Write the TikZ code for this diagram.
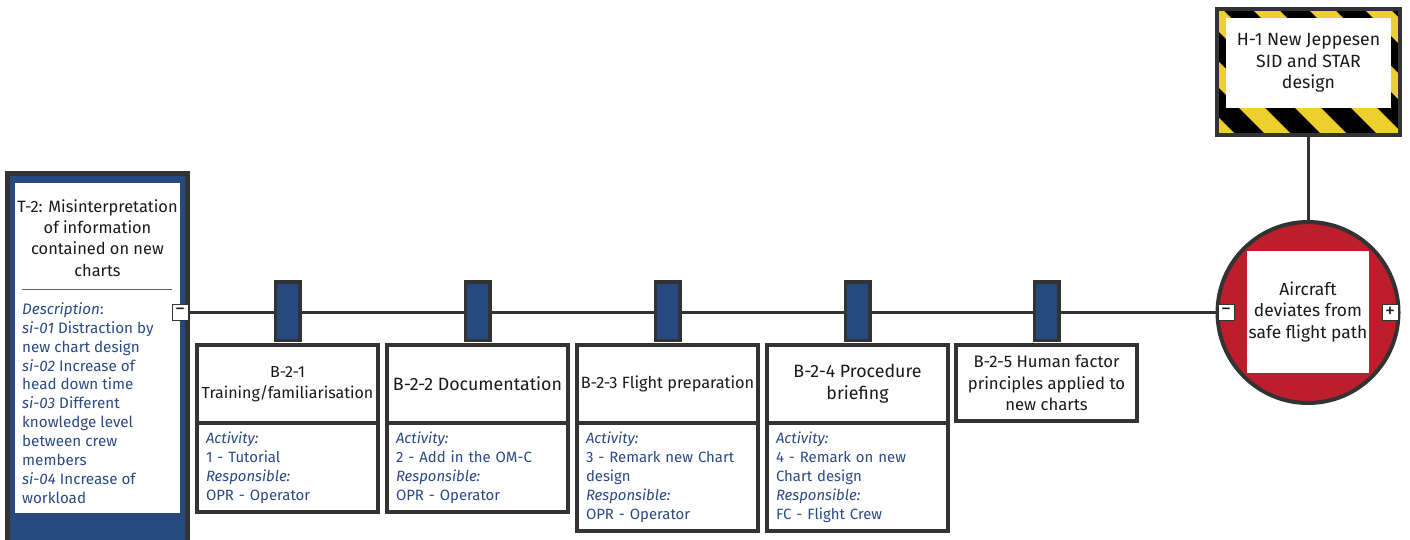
\documentclass[tikz,border=0pt]{standalone}
\usepackage{fontspec}
\setmainfont{Fira Sans}
\usetikzlibrary{calc}

\definecolor{frame}{HTML}{333333}
\definecolor{bowblue}{HTML}{264A7F}
\definecolor{txtblue}{HTML}{2B4A85}
\definecolor{topred}{HTML}{BC1E2B}
\definecolor{hazyel}{HTML}{EDCF2E}
\definecolor{inkblack}{HTML}{1A1A1A}

\tikzset{
  frameline/.style={draw=frame, line width=4, outer sep=0},
  barrierhead/.style={frameline, fill=white, minimum width=181, anchor=north,
    align=center, inner sep=2, text=inkblack,
    font=\fontsize{#1}{21.5}\selectfont},
  barrierhead/.default=16,
  barrierbody/.style={frameline, fill=white, minimum width=181, text width=163,
    inner xsep=9, inner ysep=2, align=left, anchor=north, text=txtblue,
    font=\fontsize{14.9}{19}\selectfont},
  shutter/.style={draw=frame, line width=3.5, fill=bowblue, minimum width=24.5,
    minimum height=58.5, inner sep=0, outer sep=0},
  toggle/.style={draw=frame, line width=1, fill=white, minimum size=16,
    inner sep=0, outer sep=0, font=\fontsize{20}{20}\selectfont, text=inkblack},
  mainline/.style={draw=frame, line width=3},
}

\begin{document}
\begin{tikzpicture}[x=1pt, y=-1pt]
\useasboundingbox (0,0) rectangle (1410,539);

% threat column
\draw[draw=frame, line width=5, fill=bowblue] (7.5,173.5) rectangle (187.5,560);
\fill[white] (15,183) rectangle (180,513);
\node[align=center, inner sep=0, text=inkblack, font=\fontsize{16.4}{21.3}\selectfont]
  (threattitle) at (97.5,238)
  {T-2: Misinterpretation\\of information\\contained on new\\charts};
\draw[frame!80, line width=1] (22,289.5) -- (172,289.5);
\node[align=left, anchor=west, inner sep=0, text=txtblue,
  font=\fontsize{15.2}{18.9}\selectfont] (threatdesc) at (22,403)
  {\textit{Description}:\\
   \textit{si-01} Distraction by\\
   new chart design\\
   \textit{si-02} Increase of\\
   head down time\\
   \textit{si-03} Different\\
   knowledge level\\
   between crew\\
   members\\
   \textit{si-04} Increase of\\
   workload};
\node[toggle] (tminus) at (180,312) {−};

% hazard with striped frame
\begin{scope}
  \clip (1217,9) rectangle (1400,135);
  \fill[black] (1217,9) rectangle (1400,135);
  \foreach \k in {-5,...,4} {
    \pgfmathsetmacro{\a}{1143+56*\k}
    \fill[hazyel] (\a-22,-10) -- (\a+4,-10) -- (\a+164,150) -- (\a+138,150) -- cycle;
  }
\end{scope}
\node[frameline, minimum width=183, minimum height=126] (hazard) at (1308,72) {};
\node[fill=white, minimum width=165, minimum height=90, inner sep=0, align=center,
  text=inkblack, font=\fontsize{17.7}{21.5}\selectfont] (hazardtext) at (1308.5,63)
  {H-1 New Jeppesen\\SID and STAR\\design};

% top event
\node[circle, frameline, fill=topred, minimum size=181, inner sep=0] (topevent) at (1308,312.5) {};
\node[fill=white, minimum size=122, inner sep=0, align=center, text=inkblack,
  font=\fontsize{17.4}{21.5}\selectfont] (topeventtext) at (1308,312)
  {Aircraft\\deviates from\\safe flight path};
\node[toggle] (cminus) at (1226,312) {−};
\node[toggle] (cplus) at (1390,312) {+};

% connectors
\draw[mainline] (tminus.east) -- (cminus.west);
\draw[mainline] (hazard.south) -- (topevent.north);

% barriers
\foreach \x/\n in {287.5/1, 477.5/2, 667.5/3, 857.5/4, 1046.5/5}
  \node[shutter] (shutter\n) at (\x,311) {};

\node[barrierhead=16, minimum height=78] (b1) at (287.5,345) {B-2-1\\Training/familiarisation};
\node[barrierbody, minimum height=89] (b1body) at (b1.south)
  {\textit{Activity:}\\1 - Tutorial\\\textit{Responsible:}\\OPR - Operator};

\node[barrierhead=17.8, minimum height=78] (b2) at (477.5,345) {B-2-2 Documentation};
\node[barrierbody, minimum height=89] (b2body) at (b2.south)
  {\textit{Activity:}\\2 - Add in the OM-C\\\textit{Responsible:}\\OPR - Operator};

\node[barrierhead=16.3, minimum height=78] (b3) at (667.5,345) {B-2-3 Flight preparation};
\node[barrierbody, minimum height=108] (b3body) at (b3.south)
  {\textit{Activity:}\\3 - Remark new Chart\\design\\\textit{Responsible:}\\OPR - Operator};

\node[barrierhead=17.8, minimum height=78, font=\fontsize{17.8}{22}\selectfont] (b4) at (857.5,345) {B-2-4 Procedure\\briefing};
\node[barrierbody, minimum height=108] (b4body) at (b4.south)
  {\textit{Activity:}\\4 - Remark on new\\Chart design\\\textit{Responsible:}\\FC - Flight Crew};

\node[barrierhead=16.7, minimum height=76] (b5) at (1046.5,345) {B-2-5 Human factor\\principles applied to\\new charts};
\end{tikzpicture}
\end{document}
